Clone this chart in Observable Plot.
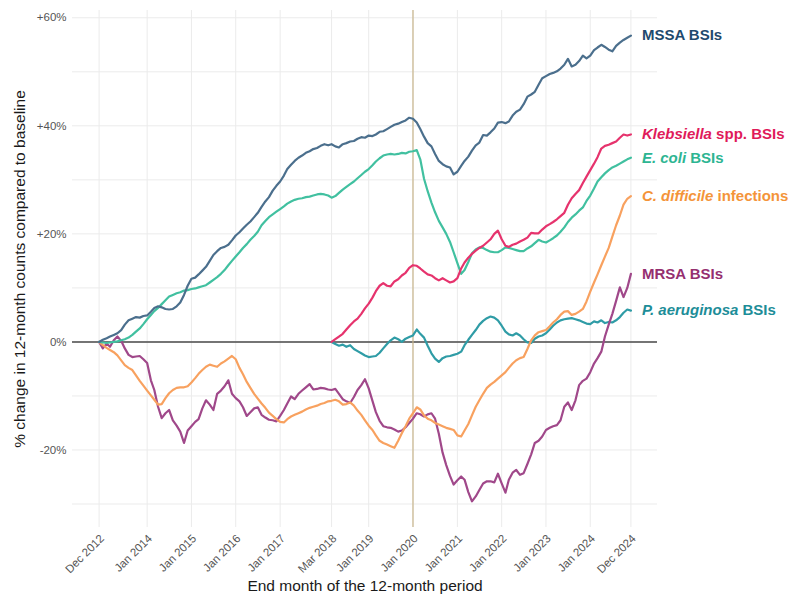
<!DOCTYPE html>
<html>
<head>
<meta charset="utf-8">
<script src="https://cdn.jsdelivr.net/npm/d3@7"></script>
<script src="https://cdn.jsdelivr.net/npm/@observablehq/plot@0.6"></script>
<style>
  html, body { margin: 0; padding: 0; background: #ffffff; }
  #chart { width: 791px; height: 597px; }
</style>
</head>
<body>
<div id="chart"></div>
<script>
// ---- Data (percentage change in 12-month counts vs baseline), monthly ----
const startMonth = "2012-12";      // MSSA, E. coli, C. difficile, MRSA start
const lateStartMonth = "2018-03";  // Klebsiella, P. aeruginosa start

const mssa = [0,0.4,0.7,1.0,1.3,1.6,2.2,3.2,4.0,4.3,
 4.6,4.5,4.8,4.9,5.6,6.3,6.6,6.4,6.1,6.0,
 6.1,6.6,7.3,8.7,10.4,11.7,11.9,12.5,13.2,13.9,
 15.0,16.1,16.8,17.4,17.6,18.0,18.8,19.7,20.3,21.0,
 21.7,22.3,23.1,23.9,25.0,26.0,26.8,28.0,28.9,29.7,
 30.8,32.0,32.8,33.5,34.1,34.5,35.0,35.3,35.7,35.9,
 36.3,36.6,36.4,36.6,36.2,36.0,36.6,36.8,37.1,37.2,
 37.6,37.9,37.8,38.2,38.1,38.4,38.9,39.0,39.4,39.8,
 40.2,40.4,40.7,41.0,41.5,41.3,40.6,39.4,38.0,36.8,
 36.2,34.8,33.5,32.9,32.5,32.3,31.0,31.5,32.6,33.5,
 34.3,35.4,36.4,36.9,38.3,38.2,38.8,39.5,40.6,40.7,
 40.5,40.8,41.9,42.6,43.0,44.0,45.4,45.8,46.3,47.6,
 48.8,49.2,49.6,49.8,50.1,50.6,51.3,52.4,51.0,51.3,
 52.0,53.0,52.5,53.0,54.0,54.5,55.0,54.6,54.1,53.8,
 54.8,55.4,55.9,56.3,56.7];

const ecoli = [0,-0.1,-0.2,-0.1,0,0.1,0.3,0.5,0.8,1.3,
 1.9,2.5,3.3,4.2,5.0,5.7,6.3,7.0,7.7,8.4,
 8.7,9.0,9.2,9.5,9.6,9.8,9.9,10.1,10.3,10.5,
 11.0,11.5,12.0,12.6,13.3,14.2,15.0,15.8,16.6,17.4,
 18.1,18.9,19.6,20.4,21.6,22.4,23.1,23.6,24.1,24.6,
 25.1,25.6,26.0,26.3,26.5,26.6,26.8,26.9,27.1,27.3,
 27.4,27.3,27.1,26.7,27.0,27.6,28.2,28.7,29.2,29.7,
 30.3,30.9,31.5,32.0,32.7,33.4,34.0,34.5,34.7,34.8,
 34.7,34.8,35.0,34.9,35.2,35.3,35.5,33.8,30.2,27.9,
 25.8,24.0,22.4,21.2,20.0,18.5,16.6,14.6,12.6,13.3,
 14.8,16.4,17.1,17.5,17.4,17.0,16.7,16.6,16.6,17.0,
 17.5,17.4,17.2,17.0,16.8,16.8,17.3,17.7,18.3,18.9,
 18.6,18.4,18.8,19.2,19.7,20.4,21.2,22.2,23.0,23.6,
 24.3,24.9,26.1,27.1,28.4,29.7,30.5,31.2,31.8,32.3,
 32.6,33.0,33.4,33.8,34.1];

const cdiff = [0,-0.6,-1.1,-1.5,-1.9,-2.5,-3.4,-4.3,-4.8,-5.2,
 -6.2,-7.2,-8.1,-9.0,-9.9,-10.7,-11.6,-11.5,-10.4,-9.5,
 -8.9,-8.5,-8.4,-8.4,-8.2,-7.5,-6.7,-5.9,-5.2,-4.6,
 -4.2,-4.4,-4.6,-4.0,-3.6,-3.1,-2.6,-3.2,-4.8,-6.0,
 -7.4,-8.5,-9.6,-10.5,-11.4,-12.2,-13.1,-13.7,-14.3,-14.8,
 -14.9,-14.3,-13.8,-13.5,-13.2,-12.9,-12.5,-12.2,-12.0,-11.8,
 -11.5,-11.3,-11.0,-10.9,-10.7,-11.0,-11.6,-11.5,-11.2,-11.8,
 -12.7,-13.5,-14.5,-15.5,-16.3,-17.3,-18.3,-18.7,-19.0,-19.3,
 -19.6,-18.3,-16.9,-15.6,-14.2,-13.2,-12.1,-12.5,-13.6,-14.2,
 -14.5,-15.0,-15.3,-15.6,-15.9,-16.1,-16.3,-17.3,-17.5,-16.4,
 -15.2,-13.6,-12.0,-10.8,-9.6,-8.5,-7.9,-7.4,-6.8,-6.2,
 -5.6,-4.8,-4.0,-3.4,-3.0,-2.8,-1.3,0.3,1.2,1.8,
 2.0,2.2,2.9,3.6,4.2,5.0,5.6,5.7,5.0,5.2,
 5.6,6.1,7.5,9.3,11.0,12.5,14.2,15.8,17.4,19.5,
 21.6,23.4,25.4,26.5,27.0];

const mrsa = [0,-1.2,-0.3,-0.9,0.3,1.0,0.2,-1.2,-2.4,-2.8,
 -2.7,-2.6,-3.2,-3.9,-7.1,-8.9,-12.0,-14.1,-13.2,-12.6,
 -14.5,-15.5,-16.6,-18.7,-16.4,-15.6,-14.8,-14.3,-12.3,-10.8,
 -11.6,-12.6,-9.6,-9.0,-8.2,-7.1,-9.6,-10.4,-11.0,-12.1,
 -13.7,-13.0,-12.3,-12.1,-13.5,-14.0,-14.4,-14.5,-14.7,-13.7,
 -12.6,-11.4,-10.1,-10.6,-9.6,-9.0,-8.4,-7.8,-8.8,-8.7,
 -8.5,-8.6,-8.8,-8.9,-8.7,-9.6,-10.6,-11.0,-11.3,-10.2,
 -8.9,-8.0,-6.9,-8.6,-10.9,-13.0,-14.6,-15.6,-15.8,-15.9,
 -16.2,-16.6,-16.4,-15.8,-15.0,-14.2,-13.2,-13.4,-13.8,-13.4,
 -13.2,-14.2,-17.0,-20.5,-22.8,-24.8,-26.4,-25.6,-24.9,-25.5,
 -27.8,-29.5,-28.6,-27.4,-26.2,-25.8,-25.8,-26.0,-24.4,-26.2,
 -27.9,-25.5,-24.2,-23.7,-24.6,-24.3,-22.6,-20.8,-18.7,-18.3,
 -17.5,-16.3,-15.9,-15.6,-15.4,-14.5,-12.0,-11.2,-12.6,-10.8,
 -8.0,-7.2,-6.8,-5.6,-4.0,-3.0,-1.8,1.0,3.2,5.2,
 7.6,10.1,8.3,10.0,12.6];

const klebsiella = [0,0.5,1.0,1.5,2.3,3.1,3.8,4.3,5.2,6.2,
 7.1,8.2,9.4,10.4,10.9,10.4,10.3,11.2,11.6,12.3,
 12.8,13.7,14.2,14.1,13.6,13.0,12.5,12.3,11.8,11.4,
 11.8,11.4,11.0,11.2,11.8,13.6,14.7,15.6,16.3,16.9,
 17.4,17.8,18.4,19.0,20.0,20.6,19.0,17.8,17.6,18.0,
 18.2,18.6,18.9,19.3,20.2,20.1,20.1,20.8,21.4,21.8,
 22.2,22.7,23.3,23.9,25.4,26.6,27.4,28.1,29.4,30.6,
 31.8,33.0,34.2,35.8,36.3,36.5,36.8,37.1,37.8,38.4,
 38.2,38.4];

const paeruginosa = [0,-0.4,-0.7,-0.5,-0.9,-0.6,-1.3,-1.7,-2.1,-2.5,
 -2.8,-2.7,-2.6,-2.0,-1.2,-0.4,0.3,0.8,0.5,0.0,
 0.6,0.9,1.2,2.3,1.5,0.8,-0.7,-2.1,-3.1,-3.7,
 -3.0,-2.7,-2.6,-2.4,-2.2,-1.8,-0.6,0.4,1.3,2.2,
 3.2,3.9,4.4,4.7,4.5,4.0,3.0,1.9,1.4,1.2,
 1.6,1.2,0.5,-0.1,-0.2,0.6,1.0,1.2,1.6,2.3,
 3.0,3.6,4.0,4.2,4.3,4.4,4.2,4.0,3.7,3.4,
 3.3,3.8,3.6,4.0,3.5,3.7,3.6,4.0,4.6,5.4,
 6.0,5.8];

const tickMonths = ["2012-12","2014-01","2015-01","2016-01","2017-01","2018-03",
  "2019-01","2020-01","2021-01","2022-01","2023-01","2024-01","2024-12"];
const yTicks = [-20, 0, 20, 40, 60];
const yGridValues = [-30, -20, -10, 0, 10, 20, 30, 40, 50, 60];
const markerMonth = "2020-01";

const seriesNames = ["MSSA BSIs", "Klebsiella spp. BSIs", "E. coli BSIs",
  "C. difficile infections", "MRSA BSIs", "P. aeruginosa BSIs"];
const labelParts = {
  "MSSA BSIs": [["MSSA BSIs", false]],
  "Klebsiella spp. BSIs": [["Klebsiella", true], [" spp. BSIs", false]],
  "E. coli BSIs": [["E. coli", true], [" BSIs", false]],
  "C. difficile infections": [["C. difficile", true], [" infections", false]],
  "MRSA BSIs": [["MRSA BSIs", false]],
  "P. aeruginosa BSIs": [["P. aeruginosa", true], [" BSIs", false]]
};

const xTitle = "End month of the 12-month period";
const yTitle = "% change in 12-month counts compared to baseline";

// ---- Styles ----
const lineColors = {
  "MSSA BSIs": "#4b6f8d",
  "Klebsiella spp. BSIs": "#e6336d",
  "E. coli BSIs": "#41c0a0",
  "C. difficile infections": "#f8a15f",
  "MRSA BSIs": "#a0488a",
  "P. aeruginosa BSIs": "#2f9ca6"
};
const labelColors = {
  "MSSA BSIs": "#1f4a6e",
  "Klebsiella spp. BSIs": "#e01a5a",
  "E. coli BSIs": "#2db592",
  "C. difficile infections": "#f49439",
  "MRSA BSIs": "#952f70",
  "P. aeruginosa BSIs": "#1d8d98"
};

// ---- Helpers ----
function monthDate(s, offset = 0) {
  const [y, m] = s.split("-").map(Number);
  return new Date(Date.UTC(y, m - 1 + offset, 1));
}
function toRows(values, start, name) {
  return values.map((v, i) => ({date: monthDate(start, i), value: v, series: name}));
}

const seriesData = {
  "MSSA BSIs": toRows(mssa, startMonth, "MSSA BSIs"),
  "Klebsiella spp. BSIs": toRows(klebsiella, lateStartMonth, "Klebsiella spp. BSIs"),
  "E. coli BSIs": toRows(ecoli, startMonth, "E. coli BSIs"),
  "C. difficile infections": toRows(cdiff, startMonth, "C. difficile infections"),
  "MRSA BSIs": toRows(mrsa, startMonth, "MRSA BSIs"),
  "P. aeruginosa BSIs": toRows(paeruginosa, lateStartMonth, "P. aeruginosa BSIs")
};

const first = monthDate(startMonth);
const last = seriesData["MSSA BSIs"][mssa.length - 1].date;
const pad = (last - first) * 0.05;
const xDomain = [new Date(+first - pad), new Date(+last + pad)];
const yMin = -30, yMax = 57;
const yPad = (yMax - yMin) * 0.05;
const yDomain = [yMin - yPad, yMax + yPad];

const tickDates = tickMonths.map(s => monthDate(s));
const fmtMonth = d3.utcFormat("%b %Y");
const fmtPct = d => (d > 0 ? "+" : "") + d + "%";

const lineOrder = ["P. aeruginosa BSIs", "MRSA BSIs", "C. difficile infections",
  "E. coli BSIs", "Klebsiella spp. BSIs", "MSSA BSIs"];

const marks = [
  Plot.gridY(yGridValues, {stroke: "#ebebeb", strokeOpacity: 1, strokeWidth: 1}),
  Plot.gridX(tickDates, {stroke: "#ebebeb", strokeOpacity: 1, strokeWidth: 1}),
  Plot.ruleY([0], {stroke: "#4a4a4a", strokeWidth: 1.6}),
  Plot.ruleX([monthDate(markerMonth)], {stroke: "#c9b58c", strokeWidth: 1.2}),
  ...lineOrder.map(name => Plot.lineY(seriesData[name], {
    x: "date", y: "value", stroke: lineColors[name], strokeWidth: 2.2,
    strokeLinejoin: "round", strokeLinecap: "round"
  })),
  ...seriesNames.map(name => {
    const rows = seriesData[name];
    return Plot.text([rows[rows.length - 1]], {
      x: "date", y: "value", text: () => name, dx: 11,
      textAnchor: "start", fill: labelColors[name],
      fontSize: 15, fontWeight: "bold"
    });
  }),
  Plot.axisY({ticks: yTicks, tickFormat: fmtPct, tickSize: 0, tickPadding: 6,
    fontSize: 11.5, fill: "#555555", label: null}),
  Plot.axisX({ticks: tickDates, tickFormat: fmtMonth, tickRotate: -45, tickSize: 0,
    tickPadding: 9, dx: 3, fontSize: 11.5, fill: "#555555", label: null}),
  Plot.text([yTitle], {text: d => d, frameAnchor: "left", dx: -52, rotate: -90,
    textAnchor: "middle", fontSize: 15.5, fill: "#1a1a1a"}),
  Plot.text([xTitle], {text: d => d, frameAnchor: "bottom", dy: 63,
    textAnchor: "middle", fontSize: 15.5, fill: "#1a1a1a"})
];

const chart = Plot.plot({
  width: 791,
  height: 597,
  marginLeft: 72,
  marginRight: 134,
  marginTop: 10,
  marginBottom: 70,
  style: {fontFamily: "'Liberation Sans', Arial, sans-serif", background: "#ffffff", overflow: "visible"},
  x: {type: "utc", domain: xDomain},
  y: {domain: yDomain},
  marks
});

// Mixed italic / upright labels
chart.querySelectorAll("text").forEach(t => {
  const parts = labelParts[t.textContent];
  if (!parts) return;
  t.textContent = "";
  t.setAttribute("style", "white-space: pre");
  for (const [s, italic] of parts) {
    const ts = document.createElementNS("http://www.w3.org/2000/svg", "tspan");
    if (italic) ts.setAttribute("font-style", "italic");
    ts.textContent = s;
    t.appendChild(ts);
  }
});

document.getElementById("chart").appendChild(chart);
</script>
</body>
</html>
